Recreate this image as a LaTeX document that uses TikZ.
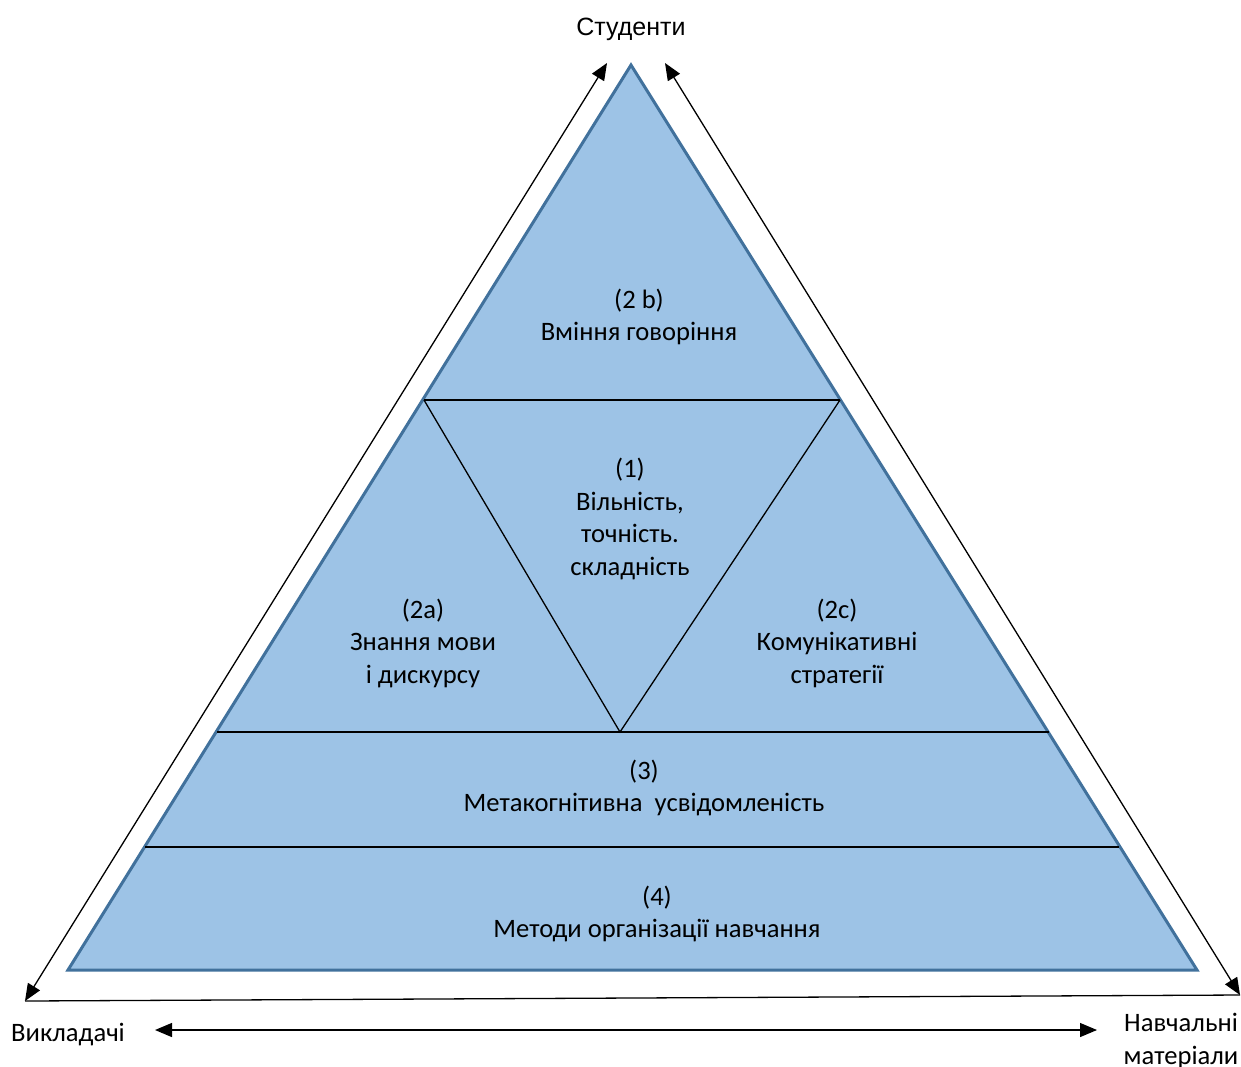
\documentclass[tikz,border=0pt]{standalone}
\usepackage{fontspec}
\setmainfont{Carlito}
\newfontfamily\arialfont{Liberation Sans}
\usetikzlibrary{arrows.meta}
\definecolor{pyrfill}{HTML}{9DC3E6}
\definecolor{pyredge}{HTML}{41719C}
\tikzset{
  lbl/.style={font=\fontsize{26.6}{32.5}\selectfont, align=center, inner sep=0pt},
  inner/.style={draw=black, line width=1.3pt},
  conn/.style={draw=black, line width=1.3pt},
  dtip/.style={{Triangle[length=17pt,width=14pt]}-{Triangle[length=17pt,width=14pt]}}
}
\begin{document}
\begin{tikzpicture}[x=1pt,y=-1pt]
\useasboundingbox (0,0) rectangle (1241,1066);
% main triangle
\coordinate (A) at (631,65);
\coordinate (BL) at (68,970);
\coordinate (BR) at (1197,970);
\filldraw[fill=pyrfill, draw=pyredge, line width=3pt, line join=miter] (A) -- (BL) -- (BR) -- cycle;
% inner lines
\coordinate (L1) at (424,400);
\coordinate (R1) at (840,400);
\coordinate (L2) at (217,732);
\coordinate (R2) at (1049,732);
\coordinate (L3) at (145,847);
\coordinate (R3) at (1119,847);
\coordinate (V) at (620,732);
\draw[inner] (L1) -- (R1);
\draw[inner] (L2) -- (R2);
\draw[inner] (L3) -- (R3);
\draw[inner] (L1) -- (V) -- (R1);
% labels
\node[lbl] (t2b) at (639,317) {(2 b)\\Вміння говоріння};
\node[lbl] (t1) at (630,519) {(1)\\Вільність,\\точність.\\складність};
\node[lbl] (t2a) at (423,643) {(2a)\\Знання мови\\і дискурсу};
\node[lbl] (t2c) at (837,643) {(2c)\\Комунікативні\\стратегії};
\node[lbl] (t3) at (644,788) {(3)\\Метакогнітивна\ \ усвідомленість};
\node[lbl] (t4) at (657,914) {(4)\\Методи організації навчання};
% outer labels
\node[lbl, font=\arialfont\fontsize{25}{30}\selectfont] (stud) at (631,29) {Студенти};
\node[lbl] (vykl) at (68,1035) {Викладачі};
\node[lbl] (navch) at (1181,1041) {Навчальні\\матеріали};
% arrows
\coordinate (TL) at (607,63);
\coordinate (TR) at (665,63);
\coordinate (BLt) at (25,1001);
\coordinate (BRt) at (1240,995);
\draw[conn, dtip] (BLt) -- (TL);
\draw[conn, dtip] (BRt) -- (TR);
\draw[conn] (BLt) -- (BRt);
\coordinate (HL) at (155,1030);
\coordinate (HR) at (1097,1030);
\draw[conn, dtip] (HL) -- (HR);
\end{tikzpicture}
\end{document}
